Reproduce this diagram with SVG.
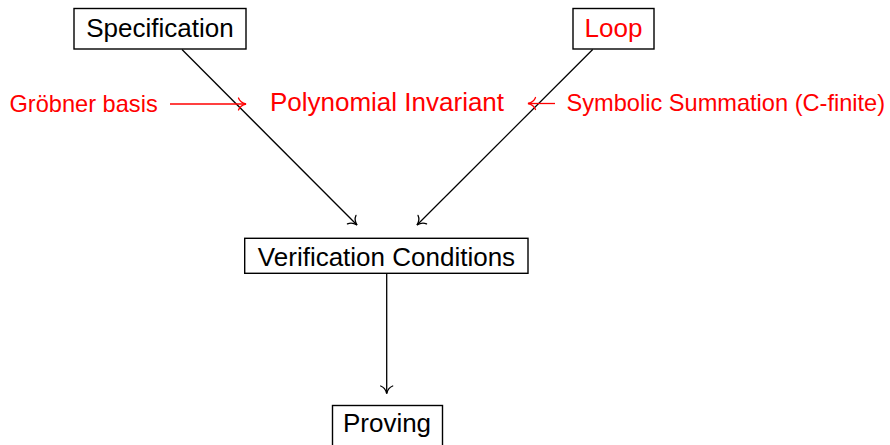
<svg xmlns="http://www.w3.org/2000/svg" width="890" height="445" viewBox="0 0 890 445">
  <defs>
    <style>
      .box { fill: #ffffff; stroke: #000000; stroke-width: 1.4; }
      .node-text { font-family: "Liberation Sans", Arial, sans-serif; font-size: 26px; fill: #000000; text-anchor: middle; }
      .red { fill: #ff0000; }
      .label { font-family: "Liberation Sans", Arial, sans-serif; font-size: 23.6px; fill: #ff0000; }
      .edge { fill: none; stroke: #000000; stroke-width: 1.3; marker-end: url(#to-black); }
      .edge-red { fill: none; stroke: #ff0000; stroke-width: 1.3; marker-end: url(#to-red); }
    </style>
    <!-- open "to"-style arrowhead with curved barbs -->
    <marker id="to-black" viewBox="-9 -7 11 14" refX="0" refY="0" markerWidth="11" markerHeight="14" markerUnits="userSpaceOnUse" orient="auto" overflow="visible">
      <path d="M -7.5 -6 C -6.3 -2.6, -2.8 -0.7, 0 0 C -2.8 0.7, -6.3 2.6, -7.5 6" fill="none" stroke="#000000" stroke-width="1.3" stroke-linecap="round"/>
    </marker>
    <marker id="to-red" viewBox="-9 -7 11 14" refX="0" refY="0" markerWidth="11" markerHeight="14" markerUnits="userSpaceOnUse" orient="auto" overflow="visible">
      <path d="M -7.5 -6 C -6.3 -2.6, -2.8 -0.7, 0 0 C -2.8 0.7, -6.3 2.6, -7.5 6" fill="none" stroke="#ff0000" stroke-width="1.3" stroke-linecap="round"/>
    </marker>
  </defs>

  <rect width="890" height="445" fill="#ffffff"/>

  <!-- connectors -->
  <g id="connectors">
    <path class="edge" d="M 182 49.5 L 357 225"/>
    <path class="edge" d="M 592.7 49.5 L 417 225"/>
    <path class="edge" d="M 386.7 273.5 L 386.7 393.5"/>
    <path class="edge-red" d="M 170 104 L 246 104"/>
    <path class="edge-red" d="M 555 103.5 L 528 103.5"/>
  </g>

  <!-- nodes -->
  <g id="specification">
    <rect class="box" x="74" y="8.5" width="172" height="40.5"/>
    <text class="node-text" x="160" y="36.5">Specification</text>
  </g>

  <g id="loop">
    <rect class="box" x="573" y="8.5" width="81" height="40.5"/>
    <text class="node-text red" x="613.5" y="36.5">Loop</text>
  </g>

  <g id="verification-conditions">
    <rect class="box" x="244.7" y="238.3" width="283.3" height="35"/>
    <text class="node-text" x="386.5" y="266">Verification Conditions</text>
  </g>

  <g id="proving">
    <rect class="box" x="332.5" y="405.5" width="110" height="42"/>
    <text class="node-text" x="387" y="431.5">Proving</text>
  </g>

  <!-- annotations -->
  <g id="polynomial-invariant">
    <text class="node-text red" x="387" y="110.7">Polynomial Invariant</text>
  </g>
  <g id="groebner-basis">
    <text class="label" x="9.5" y="111.5">Gröbner basis</text>
  </g>
  <g id="symbolic-summation">
    <text class="label" x="566.5" y="111">Symbolic Summation (C-finite)</text>
  </g>
</svg>
